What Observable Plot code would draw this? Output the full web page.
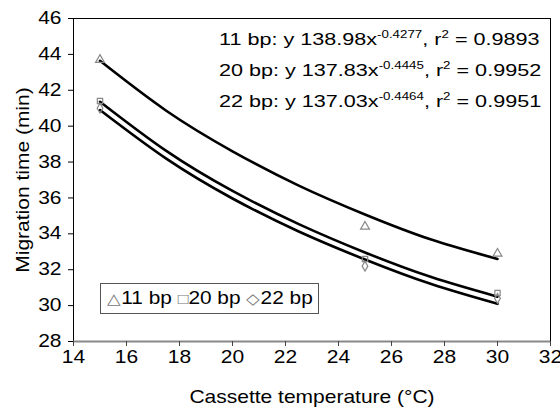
<!DOCTYPE html>
<html>
<head>
<meta charset="utf-8">
<script src="https://cdn.jsdelivr.net/npm/d3@7"></script>
<script src="https://cdn.jsdelivr.net/npm/@observablehq/plot@0.6"></script>
<style>
  html, body { margin: 0; padding: 0; background: white; }
  #wrap { position: relative; width: 560px; height: 408px; font-family: "Liberation Sans", Arial, sans-serif; }
  #eq { position: absolute; left: 219px; top: 25px; font-size: 17px; line-height: 30px; color: #000; white-space: nowrap; }
  #eq div { transform: scaleX(1.27); transform-origin: 0 50%; }
  #eq sup { font-size: 10.5px; vertical-align: 0; position: relative; top: -7px; }
  #legend { position: absolute; left: 100px; top: 283px; width: 219px; height: 31px; border: 1px solid #555; box-sizing: border-box;
            font-size: 17.5px; line-height: 29px; padding-left: 6px; white-space: nowrap; }
  #legend .in { display: inline-block; transform: scaleX(1.19); transform-origin: 0 50%; }
  #legend .s { color: #777; font-size: 15px; }
</style>
</head>
<body>
<div id="wrap"></div>
<script>
const xTicks = [14, 16, 18, 20, 22, 24, 26, 28, 30, 32];
const yTicks = [28, 30, 32, 34, 36, 38, 40, 42, 44, 46];
const series = ["11 bp", "20 bp", "22 bp"];
const symbols = ["triangle", "square", "diamond"];
const temps = [15, 25, 30];
const obs11 = [43.7, 34.4, 32.9];
const obs20 = [41.4, 32.6, 30.7];
const obs22 = [41.0, 32.2, 30.4];
// trend line values
const fitT = [15, 17.5, 20, 22.5, 25, 27.5, 30];
const fit11 = [43.64, 40.86, 38.60, 36.69, 35.08, 33.68, 32.60];
const fit20 = [41.36, 38.62, 36.39, 34.54, 32.96, 31.59, 30.50];
const fit22 = [40.90, 38.19, 35.97, 34.13, 32.57, 31.20, 30.10];
const equations = [
  ["11 bp: y 138.98x", "-0.4277", ", r", "2", " = 0.9893"],
  ["20 bp: y 137.83x", "-0.4445", ", r", "2", " = 0.9952"],
  ["22 bp: y 137.03x", "-0.4464", ", r", "2", " = 0.9951"]
];

const obs = [obs11, obs20, obs22];
const fits = [fit11, fit20, fit22];
const points = [];
obs.forEach((arr, i) => arr.forEach((v, j) => points.push({s: series[i], sym: symbols[i], t: temps[j], v})));
const lines = [];
fits.forEach((arr, i) => arr.forEach((v, j) => lines.push({s: series[i], t: fitT[j], v})));

const chart = Plot.plot({
  width: 560, height: 408,
  marginLeft: 73, marginRight: 10, marginTop: 18, marginBottom: 67,
  style: {fontFamily: "'Liberation Sans', Arial, sans-serif", fontSize: "17.5px", background: "white", color: "black", overflow: "visible"},
  x: {domain: [14, 32]},
  y: {domain: [28, 46]},
  symbol: {domain: symbols, range: symbols},
  marks: [
    Plot.ruleY([46], {stroke: "black", strokeWidth: 1}),
    Plot.ruleX([32], {stroke: "black", strokeWidth: 1}),
    Plot.ruleX([14], {stroke: "black", strokeWidth: 1}),
    Plot.ruleY([28], {stroke: "#888", strokeWidth: 2}),
    Plot.axisX({ticks: xTicks, tickSize: 5, tickPadding: 4, label: null, stroke: "#444", fontSize: 17.5, tickFormat: d => String(d)}),
    Plot.axisY({ticks: yTicks, tickSize: 5, tickPadding: 7, label: null, stroke: "#000", fontSize: 17.5, tickFormat: d => String(d)}),
    Plot.text(["Cassette temperature (°C)"], {frameAnchor: "bottom", textAnchor: "middle", dy: 61, fontSize: 17.5, fill: "black"}),
    Plot.text(["Migration time (min)"], {frameAnchor: "left", textAnchor: "middle", dx: -50, rotate: -90, fontSize: 17.5, fill: "black"}),
    Plot.line(lines, {x: "t", y: "v", z: "s", curve: "natural", stroke: "black", strokeWidth: 2.6}),
    Plot.dot(points, {x: "t", y: "v", symbol: "sym", r: d => d.sym === "triangle" ? 6 : 5, stroke: "#888", strokeWidth: 1.2, fill: "none"})
  ]
});

// widen the lettering along its own direction, as in the source figure
d3.select(chart).selectAll("text").each(function() {
  const t = this.getAttribute("transform") || "";
  this.setAttribute("transform", (t + " scale(1.2,1)").trim());
});

const wrap = document.getElementById("wrap");
wrap.appendChild(chart);

const eq = document.createElement("div");
eq.id = "eq";
eq.innerHTML = equations.map(e => `<div>${e[0]}<sup>${e[1]}</sup>${e[2]}<sup>${e[3]}</sup>${e[4]}</div>`).join("");
wrap.appendChild(eq);

const legend = document.createElement("div");
legend.id = "legend";
const legSyms = ["△", "□", "◇"];
legend.innerHTML = `<span class="in">` + series.map((s, i) => `<span class="s">${legSyms[i]}</span>${s}`).join(" ") + `</span>`;
wrap.appendChild(legend);
</script>
</body>
</html>
